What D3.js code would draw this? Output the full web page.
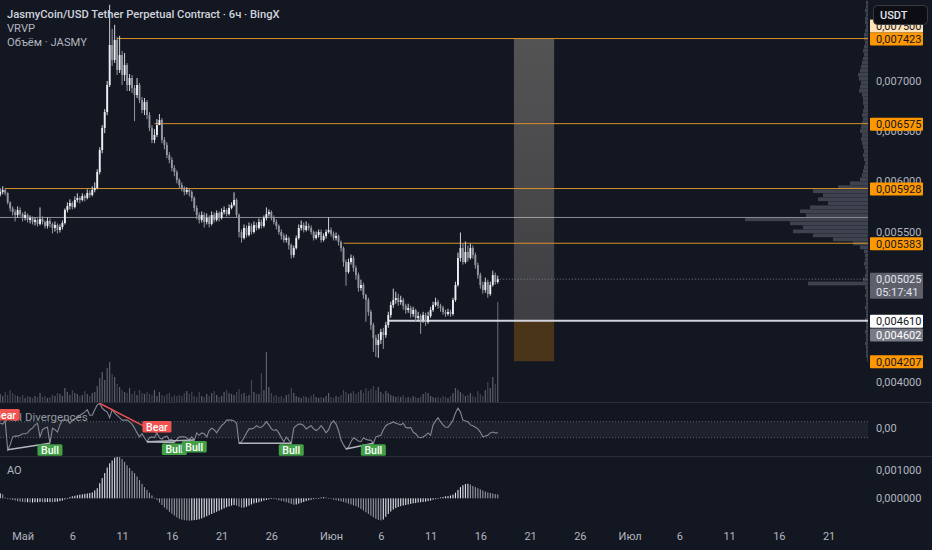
<!DOCTYPE html>
<html><head><meta charset="utf-8">
<script src="https://cdn.jsdelivr.net/npm/d3@7"></script>
<style>
html,body{margin:0;padding:0;background:#131722;overflow:hidden;}
svg{display:block;}
text{font-family:Roboto,"Noto Sans",sans-serif;}
</style></head><body>
<svg id="chart" width="932" height="550"></svg>
<script>
// ---------------- DATA ----------------
const titleText = "JasmyCoin/USD Tether Perpetual Contract · 6ч · BingX";
const legendLines = ["VRVP", "Объём · JASMY"];
const firstBarTime = Date.UTC(2024, 3, 28, 18); // 6h candles
const barHours = 6;
const firstOpenMicro = 5870; // prices in micro-USDT (×1e-6)
const closeMicro = [
5894,5914,5884,5790,5730,5694,5664,5714,5674,5635,
5664,5615,5635,5595,5615,5575,5625,5595,5555,5605,
5575,5535,5565,5515,5545,5585,5714,5754,5784,5744,
5814,5834,5814,5854,5834,5884,5864,5914,5934,6093,
6312,6532,6691,6960,7359,7209,7409,7110,7259,7060,
7159,6960,7030,6930,6860,6960,6811,6711,6791,6661,
6532,6412,6462,6561,6611,6412,6362,6262,6213,6133,
6093,6013,5963,5934,5894,5914,5894,5834,5734,5664,
5615,5664,5595,5635,5575,5664,5615,5684,5635,5694,
5714,5674,5734,5764,5814,5664,5495,5435,5535,5465,
5555,5495,5565,5535,5595,5555,5635,5674,5694,5635,
5595,5555,5495,5455,5415,5435,5365,5266,5335,5435,
5535,5565,5515,5555,5535,5495,5435,5465,5495,5415,
5455,5495,5515,5475,5435,5455,5395,5335,5196,5096,
5196,5236,5136,5066,4937,4967,4867,4817,4698,4568,
4438,4369,4419,4498,4468,4568,4668,4767,4817,4837,
4797,4817,4757,4718,4738,4678,4718,4638,4658,4618,
4668,4598,4658,4718,4767,4797,4757,4738,4698,4678,
4698,4678,4817,4967,5236,5335,5196,5296,5236,5335,
5266,5166,5066,4967,4917,4997,4877,4967,5066,4997,
5025];
const highMicro = [
5930,5950,5935,5890,5800,5750,5720,5750,5740,5690,
5700,5680,5660,5650,5640,5630,5740,5650,5610,5640,
5630,5590,5600,5580,5570,5610,5730,5790,5820,5800,
5850,5880,5850,5880,5870,5920,5910,5950,5990,6120,
6340,6560,6720,7000,7760,7520,7560,7440,7450,7300,
7280,7180,7070,7060,6960,7030,6980,6840,6830,6810,
6690,6560,6520,6620,6670,6630,6440,6390,6290,6240,
6160,6110,6030,5990,5950,5940,5930,5910,5850,5760,
5690,5700,5690,5680,5660,5700,5690,5710,5700,5730,
5750,5730,5770,5790,5890,5830,5680,5520,5570,5560,
5590,5580,5600,5590,5630,5620,5660,5740,5720,5710,
5660,5620,5570,5520,5480,5470,5450,5380,5360,5460,
5570,5610,5590,5600,5580,5560,5510,5500,5520,5520,
5480,5520,5640,5540,5500,5490,5470,5410,5350,5220,
5230,5270,5260,5160,5090,5020,4990,4880,4840,4720,
4590,4470,4480,4530,4540,4600,4700,4800,4930,4900,
4880,4860,4840,4780,4780,4760,4750,4730,4700,4680,
4700,4690,4700,4750,4800,4840,4820,4780,4760,4720,
4730,4720,4840,5000,5290,5490,5380,5400,5360,5380,
5360,5290,5190,5090,5000,5040,5020,5000,5110,5090,
5060];
const lowMicro = [
5850,5870,5860,5770,5700,5660,5600,5640,5650,5600,
5610,5590,5580,5570,5560,5550,5560,5570,5530,5530,
5540,5480,5500,5480,5490,5520,5570,5690,5720,5720,
5730,5790,5780,5800,5800,5820,5840,5850,5890,5920,
6070,6280,6480,6660,6940,7150,7180,7060,7080,6960,
7000,6900,6900,6880,6600,6830,6780,6680,6660,6620,
6500,6380,6380,6440,6560,6380,6320,6230,6180,6100,
6050,5980,5930,5900,5860,5870,5850,5800,5700,5620,
5580,5590,5540,5570,5540,5560,5590,5600,5600,5620,
5670,5650,5660,5720,5750,5640,5440,5390,5420,5440,
5450,5470,5480,5510,5520,5530,5540,5610,5650,5610,
5570,5520,5470,5420,5390,5390,5320,5230,5240,5320,
5420,5510,5490,5500,5510,5470,5410,5420,5440,5390,
5400,5430,5480,5450,5410,5410,5360,5300,5150,4960,
5080,5170,5100,5020,4900,4910,4830,4600,4660,4520,
4300,4250,4240,4380,4330,4440,4540,4640,4740,4780,
4760,4770,4720,4680,4690,4640,4650,4600,4600,4480,
4590,4560,4580,4640,4700,4750,4730,4700,4670,4650,
4660,4650,4660,4800,4950,5200,5170,5180,5200,5220,
5230,5130,5030,4930,4880,4890,4840,4860,4950,4970,
4980];
const volumeM = [
80,60,100,70,120,90,70,60,50,70,
40,60,50,40,60,50,90,50,60,40,
50,70,60,90,80,60,140,100,70,120,
90,80,60,70,110,80,60,90,100,160,
240,300,220,340,400,280,250,180,150,120,
100,90,140,80,110,70,120,90,80,100,
80,70,120,60,100,70,60,80,90,50,
70,60,70,60,90,110,80,100,60,50,
100,60,50,80,60,90,110,70,50,60,
100,120,90,80,70,100,130,80,90,60,
70,220,100,80,80,290,120,500,150,90,
60,70,50,60,40,70,80,140,90,60,
50,40,60,50,40,60,80,50,40,50,
40,60,90,50,40,60,50,70,120,100,
80,90,110,80,100,120,90,140,110,130,
160,120,150,100,80,110,90,70,60,50,
60,50,70,40,50,40,60,50,40,50,
80,100,90,60,50,40,50,40,60,50,
40,60,90,140,120,100,80,60,70,90,
60,50,110,80,60,120,200,140,250,180,
1000];
const rsiValues = [
58,57,61,25,31,41,42,42,43,45,
45,46,50,52,56,58,41,50,52,53,
33,52,50,47,56,62,62,62,58,62,
64,65,68,70,72,75,68,68,75,81,
83,77,74,72,65,75,71,68,65,62,
62,62,60,57,52,46,41,45,40,35,
40,41,40,46,40,38,41,42,37,38,
34,38,41,41,41,40,37,41,37,46,
43,46,45,41,49,52,50,46,51,55,
58,62,62,62,61,58,33,35,40,46,
51,51,52,55,53,53,56,60,56,51,
49,50,46,40,35,41,37,33,52,55,
57,57,55,51,53,55,51,49,51,55,
51,46,50,58,61,57,49,37,31,26,
28,35,40,38,36,35,40,38,37,37,
33,41,42,43,50,55,57,58,60,58,
57,56,58,53,52,53,47,45,41,40,
41,43,46,43,56,61,65,60,56,53,
53,57,62,71,77,72,62,61,60,56,
55,53,51,47,41,42,43,46,47,46,
46];
const aoMicro = [
180,140,30,-30,-40,-60,-80,-100,-120,-130,
-140,-140,-150,-150,-140,-140,-130,-140,-140,-130,
-130,-140,-130,-120,-100,-80,-40,10,40,70,
90,110,130,140,160,170,190,210,280,360,
540,720,900,1100,1250,1350,1450,1500,1480,1400,
1300,1180,1080,980,900,780,650,520,400,300,
200,100,20,-60,-150,-240,-330,-400,-480,-550,
-620,-680,-730,-760,-780,-790,-800,-790,-780,-770,
-750,-720,-680,-640,-600,-560,-520,-480,-440,-400,
-360,-320,-290,-260,-240,-260,-300,-340,-330,-300,
-260,-220,-180,-160,-140,-110,-80,-60,-40,-20,
-10,-40,-70,-90,-110,-140,-170,-200,-230,-220,
-190,-160,-130,-100,-70,-50,-30,-10,10,30,
40,30,10,-20,-50,-70,-90,-110,-130,-160,
-190,-220,-250,-280,-320,-380,-440,-500,-560,-620,
-680,-730,-770,-790,-760,-660,-560,-470,-400,-350,
-310,-280,-260,-240,-220,-200,-180,-170,-150,-140,
-130,-120,-100,-80,-50,-30,-10,30,50,70,
80,100,130,200,300,400,470,510,520,490,
440,400,360,320,280,240,210,190,170,150,
140];
// divergences (candle indices)
const divLines = [
  {kind:"bull", from:3, to:20},
  {kind:"bear", from:40, to:63},
  {kind:"bull", from:59, to:70},
  {kind:"bull", from:59, to:78},
  {kind:"bull", from:96, to:117},
  {kind:"bull", from:139, to:150}
];
const divLabels = [
  {kind:"bear", at:2}, {kind:"bull", at:20}, {kind:"bear", at:63},
  {kind:"bull", at:70}, {kind:"bull", at:78}, {kind:"bull", at:117}, {kind:"bull", at:150}
];
// visible-range volume profile
const profileTop = 0.0078, profileStep = 0.00004;
const profileVolume = [
2,2,3,2,3,3,2,3,4,
4,3,4,5,4,5,
6,7,8,10,9,7,8,9,6,5,
5,4,5,6,5,6,
7,8,6,7,6,5,
4,5,4,3,4,5,6,8,
18,30,55,45,50,40,58,68,62,123,78,65,75,55,35,15,
8,4,3,3,4,3,2,3,
5,60,
3,2,3,2,2,3,2,2,3,2,2,3,2,2,3,2,2,2,1];
const pocPrice = 0.00564;
// drawn horizontal rays (start candle index)
const rays = [
  {price:0.007423, from:47, color:"#d99128", width:1},
  {price:0.006575, from:62, color:"#d99128", width:1},
  {price:0.005928, from:2,  color:"#d99128", width:1},
  {price:0.005383, from:138,color:"#d99128", width:1},
  {price:0.004610, from:156,color:"#d1d4dc", width:2}
];
// long position tool
const position = {start:Date.UTC(2024,5,19,9), end:Date.UTC(2024,5,23,10), entry:0.004610, target:0.007423, stop:0.004207};
const priceTicks = [0.007,0.0065,0.006,0.0055,0.004];
const priceTags = [
  {price:0.007423, bg:"#ff9800", fg:"#131722"},
  {price:0.006575, bg:"#ff9800", fg:"#131722"},
  {price:0.005928, bg:"#ff9800", fg:"#131722"},
  {price:0.005383, bg:"#ff9800", fg:"#131722"},
  {price:0.004610, bg:"#ffffff", fg:"#131722"},
  {price:0.004602, bg:"#787b86", fg:"#ffffff", shift:13},
  {price:0.004207, bg:"#ff9800", fg:"#131722"}
];
const hiddenTagPrice = 0.0075;
const lastPrice = 0.005025, countdown = "05:17:41";
const timeTickDates = ["2024-05-01","2024-05-06","2024-05-11","2024-05-16","2024-05-21","2024-05-26",
  "2024-06-01","2024-06-06","2024-06-11","2024-06-16","2024-06-21","2024-06-26",
  "2024-07-01","2024-07-06","2024-07-11","2024-07-16","2024-07-21"];
const timeTickLabels = ["Май","6","11","16","21","26","Июн","6","11","16","21","26","Июл","6","11","16","21"];
const aoTicks = [0.001, 0];
const currencyLabel = "USDT";

// ---------------- CHART ----------------
const svg = d3.select("#chart");
const W = 932, H = 550, plotR = 868;
const bg = "#131722";
svg.append("rect").attr("width", W).attr("height", H).attr("fill", bg);

const x = d3.scaleUtc().domain([new Date(Date.UTC(2024,4,1)), new Date(Date.UTC(2024,6,1))]).range([22.6, 629.6]);
const y = d3.scaleLinear().domain([0.004, 0.007]).range([382, 81]);
const yVol = d3.scaleLinear().domain([0, 1000]).range([402, 302]);
const yRsi = d3.scaleLinear().domain([0, 100]).range([469.7, 389.7]);
const yAo = d3.scaleLinear().domain([0, 0.001]).range([498.3, 470.3]);
const fmt6 = v => d3.format(".6f")(v).replace(".", ",");

const bars = closeMicro.map((c, i) => ({
  t: new Date(firstBarTime + i * barHours * 3600e3),
  o: (i ? closeMicro[i-1] : firstOpenMicro) / 1e6,
  h: highMicro[i] / 1e6, l: lowMicro[i] / 1e6, c: c / 1e6,
  v: volumeM[i], rsi: rsiValues[i], ao: aoMicro[i] / 1e6, i
}));
const bx = i => x(bars[i].t);

const defs = svg.append("defs");
defs.append("clipPath").attr("id","cMain").append("rect").attr("x",0).attr("y",0).attr("width",plotR).attr("height",402);
defs.append("clipPath").attr("id","cRsi").append("rect").attr("x",0).attr("y",403).attr("width",plotR).attr("height",53);
defs.append("clipPath").attr("id","cAo").append("rect").attr("x",0).attr("y",457).attr("width",plotR).attr("height",68);
const grad = defs.append("linearGradient").attr("id","gProfit").attr("x1",0).attr("y1",0).attr("x2",0).attr("y2",1);
grad.append("stop").attr("offset","0%").attr("stop-color","rgb(236,222,200)").attr("stop-opacity",0.3);
grad.append("stop").attr("offset","100%").attr("stop-color","rgb(236,222,200)").attr("stop-opacity",0.2);

// separators
svg.append("g").selectAll("line").data([402.5, 456.5]).join("line")
  .attr("x1",0).attr("x2",W).attr("y1",d=>d).attr("y2",d=>d).attr("stroke","#2a2e39").attr("stroke-width",1);

const main = svg.append("g").attr("clip-path","url(#cMain)");

// volume profile
const pw = d3.scaleLinear().domain([0, d3.max(profileVolume)]).range([0, 123]);
main.append("g").selectAll("rect").data(profileVolume).join("rect")
  .attr("x", d => plotR - pw(d)).attr("width", d => pw(d))
  .attr("y", (d,j) => y(profileTop - j*profileStep))
  .attr("height", (d,j) => Math.max(0.5, y(profileTop-(j+1)*profileStep) - y(profileTop - j*profileStep) - 0.3))
  .attr("fill", "#535762").attr("opacity", 0.7);

// POC line
main.append("line").attr("x1",0).attr("x2",plotR).attr("y1",y(pocPrice)).attr("y2",y(pocPrice))
  .attr("stroke","#8a8d96").attr("stroke-width",1);

// volume bars
main.append("g").selectAll("rect").data(bars).join("rect")
  .attr("x", d => x(d.t) - 0.6).attr("width", 1.2)
  .attr("y", d => yVol(d.v)).attr("height", d => 402 - yVol(d.v))
  .attr("fill", d => d.c >= d.o ? "#6f727c" : "#4f525c").attr("opacity", 0.8);

// position tool
const px0 = x(new Date(position.start)), px1 = x(new Date(position.end));
main.append("rect").attr("x",px0).attr("width",px1-px0).attr("y",y(position.target)).attr("height",y(position.entry)-y(position.target))
  .attr("fill","url(#gProfit)");
main.append("rect").attr("x",px0).attr("width",px1-px0).attr("y",y(position.entry)).attr("height",y(position.stop)-y(position.entry))
  .attr("fill","rgb(255,152,0)").attr("opacity",0.24);

// current price dotted line
main.append("line").attr("x1", bx(bars.length-1)+2).attr("x2", plotR)
  .attr("y1", y(lastPrice)).attr("y2", y(lastPrice)).attr("stroke","#787b86").attr("stroke-dasharray","1,2");

// rays
main.append("g").selectAll("line").data(rays).join("line")
  .attr("x1", d => bx(d.from)).attr("x2", plotR)
  .attr("y1", d => y(d.price)).attr("y2", d => y(d.price))
  .attr("stroke", d => d.color).attr("stroke-width", d => d.width);

// candles
const cg = main.append("g");
cg.selectAll("line").data(bars).join("line")
  .attr("x1", d => x(d.t)).attr("x2", d => x(d.t))
  .attr("y1", d => y(d.h)).attr("y2", d => y(d.l))
  .attr("stroke", d => d.c >= d.o ? "#d1d4dc" : "#9598a1").attr("stroke-width", 1);
cg.selectAll("rect").data(bars).join("rect")
  .attr("x", d => x(d.t) - 0.95).attr("width", 1.9)
  .attr("y", d => y(Math.max(d.o, d.c)))
  .attr("height", d => Math.max(0.8, Math.abs(y(d.o) - y(d.c))))
  .attr("fill", d => d.c >= d.o ? "#eceef2" : "#9598a1");

// ---- RSI pane ----
const rsiG = svg.append("g").attr("clip-path","url(#cRsi)");
rsiG.append("rect").attr("x",0).attr("width",plotR).attr("y",yRsi(60)).attr("height",yRsi(40)-yRsi(60)).attr("fill","#1e222c");
rsiG.selectAll("line.band").data([60,40]).join("line").attr("class","band")
  .attr("x1",0).attr("x2",plotR).attr("y1",d=>yRsi(d)).attr("y2",d=>yRsi(d))
  .attr("stroke","#5d606b").attr("stroke-dasharray","1,2");
rsiG.append("text").attr("x",5).attr("y",yRsi(66)).attr("dy","0.35em").attr("font-size",11.5).attr("fill","#9598a1").text("RSI Divergences");
rsiG.append("path").datum(bars)
  .attr("d", d3.line().x(d => x(d.t)).y(d => yRsi(d.rsi)))
  .attr("fill","none").attr("stroke","#868993").attr("stroke-width",1.1);
rsiG.selectAll("line.div").data(divLines).join("line").attr("class","div")
  .attr("x1", d => bx(d.from)).attr("y1", d => yRsi(bars[d.from].rsi))
  .attr("x2", d => bx(d.to)).attr("y2", d => yRsi(bars[d.to].rsi))
  .attr("stroke", d => d.kind === "bull" ? "#b2b5be" : "#f0504f").attr("stroke-width", 1.5);
const lab = rsiG.selectAll("g.lab").data(divLabels).join("g").attr("class","lab")
  .attr("transform", d => {
    const cx = bx(d.at), cy = yRsi(bars[d.at].rsi);
    return `translate(${cx},${d.kind === "bull" ? cy + 1 : cy - 12})`;
  });
lab.append("rect").attr("x", d => d.kind === "bull" ? -12.5 : -14.5).attr("width", d => d.kind === "bull" ? 25 : 29)
  .attr("y",0).attr("height",11.5).attr("rx",1.5)
  .attr("fill", d => d.kind === "bull" ? "#43a047" : "#f05350");
lab.append("text").attr("x",0).attr("y",6).attr("dy","0.35em").attr("text-anchor","middle")
  .attr("font-size",10.5).attr("font-weight",500).attr("fill","#ffffff")
  .text(d => d.kind === "bull" ? "Bull" : "Bear");

// ---- AO pane ----
const aoG = svg.append("g").attr("clip-path","url(#cAo)");
aoG.selectAll("rect").data(bars).join("rect")
  .attr("x", d => x(d.t) - 0.55).attr("width", 1.1)
  .attr("y", d => Math.min(yAo(d.ao), yAo(0)))
  .attr("height", d => Math.max(0.6, Math.abs(yAo(d.ao) - yAo(0))))
  .attr("fill", (d,i) => (i === 0 || d.ao >= bars[i-1].ao) ? "#e0e3eb" : "#9598a1");
svg.append("text").attr("x",7).attr("y",yAo(0.00099)).attr("dy","0.35em").attr("font-size",11).attr("fill","#b2b5be").text("AO");

// ---- axes ----
const styleAxis = g => { g.select(".domain").remove(); g.selectAll("text").attr("fill","#b2b5be").attr("font-size",11).attr("font-family","Roboto,sans-serif"); };
svg.append("g").attr("transform",`translate(${plotR},0)`)
  .call(d3.axisRight(y).tickValues(priceTicks).tickFormat(fmt6).tickSize(0).tickPadding(8)).call(styleAxis);
svg.append("g").attr("transform",`translate(${plotR},0)`)
  .call(d3.axisRight(yAo).tickValues(aoTicks).tickFormat(fmt6).tickSize(0).tickPadding(8)).call(styleAxis);
svg.append("text").attr("x",plotR+8).attr("y",yRsi(52)).attr("dy","0.32em").attr("font-size",11).attr("fill","#b2b5be").text("0,00");
const timeDates = timeTickDates.map(s => new Date(s + "T00:00:00Z"));
svg.append("g").attr("transform","translate(0,529)")
  .call(d3.axisBottom(x).tickValues(timeDates).tickFormat((d,i) => timeTickLabels[i]).tickSize(0).tickPadding(3)).call(styleAxis);

// price tags
const tagG = svg.append("g");
// label peeking out above the target tag
tagG.append("rect").attr("x",870).attr("y",y(position.target)-19).attr("width",53).attr("height",13).attr("fill","#ffe2b8");
tagG.append("text").attr("x",876).attr("y",y(position.target)-12.5).attr("dy","0.35em").attr("font-size",11).attr("fill","#131722").text(fmt6(hiddenTagPrice));
priceTags.forEach(t => {
  const cy = y(t.price) + (t.shift || 0) + 0.5;
  tagG.append("rect").attr("x",870).attr("y",cy-6.5).attr("width",53).attr("height",13).attr("rx",1).attr("fill",t.bg);
  tagG.append("text").attr("x",876).attr("y",cy).attr("dy","0.35em").attr("font-size",11).attr("fill",t.fg).text(fmt6(t.price));
});
{
  const cy = y(lastPrice);
  tagG.append("rect").attr("x",870).attr("y",cy-6.5).attr("width",53).attr("height",26).attr("rx",1).attr("fill","#5d606b");
  tagG.append("text").attr("x",876).attr("y",cy).attr("dy","0.35em").attr("font-size",11).attr("fill","#e0e3eb").text(fmt6(lastPrice));
  tagG.append("text").attr("x",876).attr("y",cy+12.5).attr("dy","0.35em").attr("font-size",11).attr("fill","#e0e3eb").text(countdown);
}

// currency box
svg.append("rect").attr("x",873.5).attr("y",5.5).attr("width",54).attr("height",19).attr("rx",4).attr("fill","#0c0e13").attr("stroke","#363a45");
svg.append("text").attr("x",880).attr("y",15).attr("dy","0.35em").attr("font-size",11).attr("font-weight",500).attr("fill","#e0e3eb").text(currencyLabel);

// legend
svg.append("text").attr("x",7).attr("y",14).attr("dy","0.35em").attr("font-size",11.2).attr("font-weight",500).attr("fill","#d1d4dc").text(titleText);
svg.append("g").selectAll("text").data(legendLines).join("text")
  .attr("x",7).attr("y",(d,i) => 28 + i*14.5).attr("dy","0.35em").attr("font-size",11.2).attr("fill","#b2b5be").text(d => d);
</script>
</body></html>
